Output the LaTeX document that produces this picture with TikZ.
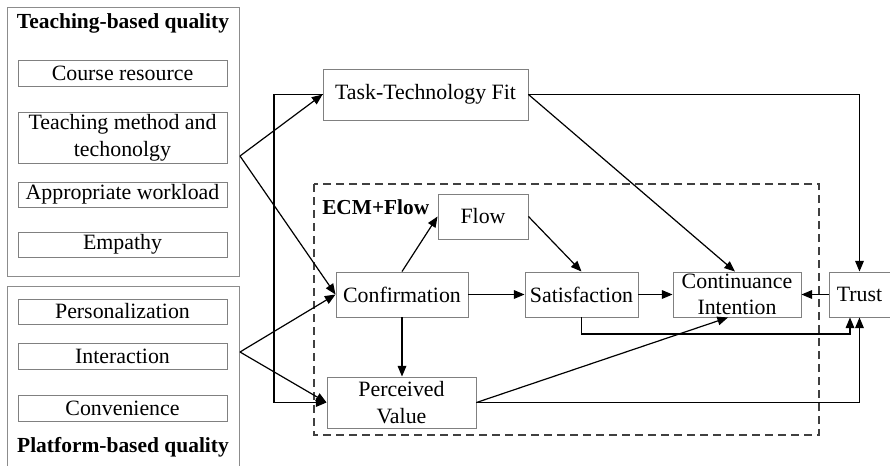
\documentclass[tikz,border=0pt]{standalone}
\usepackage{fontspec}
\setmainfont{Liberation Serif}
\usetikzlibrary{arrows.meta,calc}
\begin{document}
\begin{tikzpicture}[x=0.75pt,y=-0.75pt,
  box/.style={draw=black!50,line width=0.7pt,inner sep=0pt,align=center,font=\fontsize{16.4}{20}\selectfont},
  grp/.style={draw=black!45,line width=0.7pt},
  conn/.style={line width=0.9pt,-{Triangle[length=8pt,width=6.5pt]}},
  ttl/.style={font=\fontsize{16.1}{19}\selectfont\bfseries,inner sep=0pt}]
\useasboundingbox (0,0) rectangle (890,465);
% groups
\draw[grp] (7,7) rectangle (239,276);
\draw[grp] (7,467) -- (7,286) -- (239,286) -- (239,467);
\node[ttl] (tt) at (123,23) {Teaching-based quality};
\node[ttl] (pt) at (123,447) {Platform-based quality};
% left items
\node[box,minimum width=156.75pt,minimum height=19.5pt] (cr) at (122.5,73) {Course resource};
\node[box,minimum width=156.75pt,minimum height=38.25pt] (tm) at (122.5,137.5) {Teaching method and\\techonolgy};
\node[box,minimum width=156.75pt,minimum height=18.75pt] (aw) at (122.5,194.5) {Appropriate workload};
\node[box,minimum width=156.75pt,minimum height=18.75pt] (em) at (122.5,244.5) {Empathy};
\node[box,minimum width=156.75pt,minimum height=18.75pt] (pe) at (122.5,311.5) {Personalization};
\node[box,minimum width=156.75pt,minimum height=19.5pt] (in) at (122.5,356) {Interaction};
\node[box,minimum width=156.75pt,minimum height=19.5pt] (cv) at (122.5,408) {Convenience};
% dashed frame
\draw[draw=black!75,line width=0.9pt,dash pattern=on 6pt off 3.75pt] (314,184) rectangle (819,435);
\node[font=\fontsize{16}{19}\selectfont\bfseries,anchor=west,inner sep=0pt] (ecm) at (322,207) {ECM+Flow};
% main nodes
\node[box,minimum width=153.75pt,minimum height=38.25pt] (ttf) at (425.5,94.5) {Task-Technology Fit};
\node[box,minimum width=67.5pt,minimum height=33.75pt] (flow) at (483,216.5) {Flow};
\node[box,minimum width=99pt,minimum height=33.75pt] (conf) at (402,294.5) {Confirmation};
\node[box,minimum width=84.75pt,minimum height=33.75pt] (sat) at (581.5,294.5) {Satisfaction};
\node[box,minimum width=111.75pt,minimum height=38.25pt] (pv) at (401.5,402.5) {Perceived\\Value};
\node[box,minimum width=96pt,minimum height=33.75pt] (ci) at (737,294.5) {Continuance\\Intention};
\node[box,minimum width=45.75pt,minimum height=33.75pt] (trust) at (859.5,294.5) {Trust};
% fan points
\coordinate (tf) at (240,156);
\coordinate (pf) at (240,352);
% connectors
\draw[conn] (tf) -- (ttf.west);
\draw[conn] (tf) -- (conf.west);
\draw[conn] (pf) -- (conf.west);
\draw[conn] (pf) -- (pv.west);
\draw[conn] (ttf.west) -- (274,94.5) -- (274,402.5) -- (pv.west);
\draw[conn] (ttf.east) -- (trust.north |- ttf.east) -- (trust.north);
\draw[conn] (ttf.east) -- ($(ci.north)+(-2,0)$);
\draw[conn] (conf.north) -- (flow.west);
\draw[conn] (flow.east) -- (sat.north);
\draw[conn] (conf.east) -- (sat.west);
\draw[conn] (sat.east) -- (ci.west);
\draw[conn] (trust.west) -- (ci.east);
\draw[conn] (conf.south) -- (conf.south |- pv.north);
\draw[conn] (sat.south) -- (581.5,334) -- (850,334) -- ($(trust.south)+(-9.5,0)$);
\draw[conn] (pv.east) -- ($(ci.south)+(-9,0)$);
\draw[conn] (pv.east) -- (trust.south |- pv.east) -- (trust.south);
\end{tikzpicture}
\end{document}
